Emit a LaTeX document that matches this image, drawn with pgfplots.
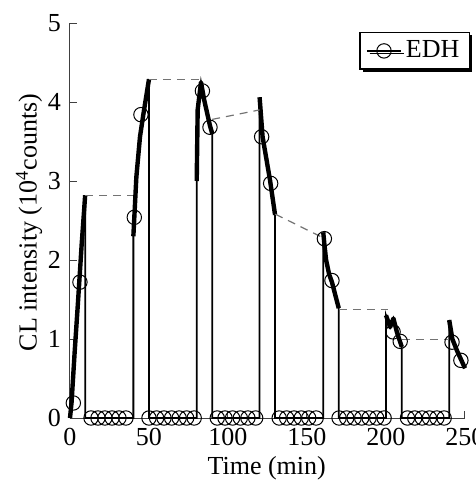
\documentclass[border=0pt]{standalone}
\usepackage{pgfplots}
\pgfplotsset{compat=1.18}
\usepackage{fontspec}
\setmainfont{Liberation Serif}
\usetikzlibrary{shadows}

\begin{document}
\begin{tikzpicture}
\begin{axis}[
  name=main,
  scale only axis,
  width=197.5pt, height=197.5pt,
  xmin=0, xmax=250, ymin=0, ymax=5,
  axis x line=bottom, axis y line=left,
  axis line style={-, black!75, line width=0.5pt},
  xtick={0,50,...,250}, ytick={0,1,...,5},
  tick align=inside,
  major tick length=3.5pt,
  tick style={black!75, line width=0.5pt},
  font=\fontsize{13}{15}\selectfont,
  ticklabel style={font=\fontsize{13}{15}\selectfont},
  /pgf/number format/assume math mode=true,
  xticklabel style={yshift=-1.7pt},
  yticklabel style={xshift=-1pt},
  xlabel={Time (min)},
  ylabel={CL intensity (10\textsuperscript{4}counts)},
  xlabel style={at={(axis description cs:0.498,-0.1443)}, anchor=base},
  ylabel style={at={(axis description cs:-0.0846,0.495)}, anchor=base},
  clip=false,
  legend style={at={(1.0127,0.9765)}, anchor=north east, draw=black,
    line width=0.6pt, fill=white, font=\fontsize{13}{15}\selectfont,
    drop shadow={shadow xshift=1.3pt, shadow yshift=-1.3pt, fill=black, opacity=1},
    inner xsep=3pt, inner ysep=2pt},
]
% thin trace: pulses, drops and zero level
\addplot[black, line width=0.9pt, forget plot] coordinates {
  (0,0) (1,0.2) (3,0.85) (5,1.45) (7.4,2.2) (9.6,2.82) (9.6,0)
  (40.1,0) (40.1,2.3) (42,3.05) (44.3,3.56) (46.4,3.84) (50,4.29) (50,0)
  (80.2,0) (80.2,3.0) (80.8,3.9) (82.9,4.25) (85,4.02) (88.6,3.7) (90,3.6) (90,0)
  (120,0) (120,4.06) (121.9,3.56) (126.6,3.01) (129.8,2.57) (129.8,0)
  (160.3,0) (160.3,2.35) (161,2.2) (162.1,2.0) (164,1.82) (165.8,1.72) (168,1.55) (170.1,1.39) (170.1,0)
  (200,0) (200,1.30) (202.6,1.15) (204.7,1.26) (207,1.08) (210,0.90) (210,0)
  (240,0) (240,1.24) (242,1.0) (245,0.85) (247.5,0.74) (250,0.63)
};
% thick parts of the pulses
\addplot[black, line width=2.2pt, line join=round, forget plot] coordinates {
  (0,0) (1,0.2) (3,0.85) (5,1.45) (7.4,2.2) (9.6,2.82)};
\addplot[black, line width=2.2pt, line join=round, forget plot] coordinates {
  (40.1,2.3) (42,3.05) (44.3,3.56) (46.4,3.84) (50,4.29)};
\addplot[black, line width=2.2pt, line join=round, forget plot] coordinates {
  (80.2,3.0) (80.8,3.9) (82.9,4.25) (85,4.02) (88.6,3.7) (90,3.6)};
\addplot[black, line width=2.2pt, line join=round, forget plot] coordinates {
  (120,4.06) (121.9,3.56) (126.6,3.01) (129.8,2.57)};
\addplot[black, line width=2.2pt, line join=round, forget plot] coordinates {
  (160.3,2.35) (161,2.2) (162.1,2.0) (164,1.82) (165.8,1.72) (168,1.55) (170.1,1.39)};
\addplot[black, line width=2.2pt, line join=round, forget plot] coordinates {
  (200,1.30) (202.6,1.15) (204.7,1.26) (207,1.08) (210,0.90)};
\addplot[black, line width=2.2pt, line join=round, forget plot] coordinates {
  (240,1.24) (242,1.0) (245,0.85) (247.5,0.74) (250,0.63)};
% dashed links between the pulses
\addplot[black!55, line width=0.6pt, dash pattern=on 4pt off 3pt, forget plot] coordinates {(9.6,2.82) (40.1,2.82)};
\addplot[black!55, line width=0.6pt, dash pattern=on 4pt off 3pt, forget plot] coordinates {(50,4.29) (82.9,4.29)};
\addplot[black!55, line width=0.6pt, dash pattern=on 4pt off 3pt, forget plot] coordinates {(90,3.78) (120,3.90)};
\addplot[black!55, line width=0.6pt, dash pattern=on 4pt off 3pt, forget plot] coordinates {(130,2.58) (160.3,2.28)};
\addplot[black!55, line width=0.6pt, dash pattern=on 4pt off 3pt, forget plot] coordinates {(170.1,1.375) (201,1.375)};
\addplot[black!55, line width=0.6pt, dash pattern=on 4pt off 3pt, forget plot] coordinates {(210,0.99) (240,0.99)};
% circle markers
\addplot[only marks, mark=o, mark size=3.6pt, mark options={black, line width=0.5pt}, forget plot] coordinates {
  (2.1,0.19) (6.3,1.72)
  (13.3,0) (17.7,0) (22.1,0) (26.6,0) (31.0,0) (35.4,0)
  (40.7,2.54) (44.9,3.84)
  (50.0,0) (54.8,0) (59.5,0) (64.3,0) (69.1,0) (73.8,0) (78.6,0)
  (83.8,4.14) (88.6,3.68)
  (93.2,0) (98.1,0) (102.9,0) (107.8,0) (112.6,0) (117.5,0)
  (121.3,3.56) (127,2.97)
  (132.4,0) (137.1,0) (141.8,0) (146.4,0) (151.1,0) (155.8,0)
  (161,2.27) (165.8,1.74)
  (170.3,0) (175.1,0) (179.8,0) (184.6,0) (189.3,0) (194.1,0) (198.8,0)
  (204.5,1.09) (209,0.97)
  (213.6,0) (218.2,0) (222.9,0) (227.5,0) (232.2,0) (236.8,0)
  (241.8,0.96) (247.4,0.73)
};
\addlegendimage{black, line width=0.9pt, mark=o, mark size=3.6pt, mark options={line width=0.5pt}}
\addlegendentry{EDH}
\end{axis}
\pgfresetboundingbox
\useasboundingbox ([shift={(-35pt,-35.5pt)}]main.south west) rectangle ([shift={(203pt,209pt)}]main.south west);
\end{tikzpicture}
\end{document}
